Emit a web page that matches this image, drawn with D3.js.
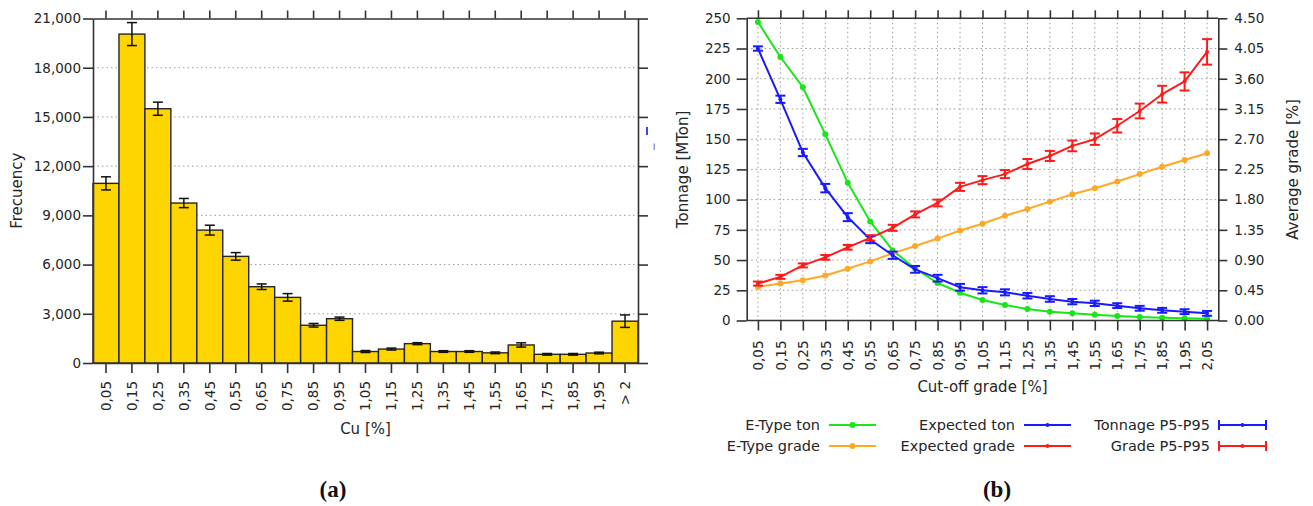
<!DOCTYPE html>
<html>
<head>
<meta charset="utf-8">
<script src="https://cdn.jsdelivr.net/npm/d3@7"></script>
<style>
  html, body { margin: 0; padding: 0; background: #fff; }
  svg { display: block; font-family: "DejaVu Sans", Verdana, sans-serif; }
</style>
</head>
<body>
<svg id="fig" width="1313" height="506"></svg>
<script>
// ---- (a) Cu histogram ----
const binLabels = ["0,05","0,15","0,25","0,35","0,45","0,55","0,65","0,75","0,85","0,95",
                   "1,05","1,15","1,25","1,35","1,45","1,55","1,65","1,75","1,85","1,95","> 2"];
const frequency = [10950, 20050, 15500, 9750, 8100, 6500, 4650, 4000, 2300, 2700,
                   700, 850, 1180, 700, 700, 620, 1100, 530, 530, 610, 2550];
const frequencyErr = [400, 700, 400, 280, 300, 230, 170, 230, 110, 100,
                      60, 60, 60, 50, 50, 50, 130, 50, 50, 50, 380];
const freqTicks = [0, 3000, 6000, 9000, 12000, 15000, 18000, 21000];

// ---- (b) grade-tonnage curves ----
const cutoffLabels = ["0,05","0,15","0,25","0,35","0,45","0,55","0,65","0,75","0,85","0,95","1,05",
                      "1,15","1,25","1,35","1,45","1,55","1,65","1,75","1,85","1,95","2,05"];
const eTypeTon = [247, 218, 193, 154, 114, 82, 58, 43, 31, 23, 17,
                  12.8, 9.5, 7.3, 5.9, 4.8, 3.7, 2.9, 2.3, 1.8, 1.5];
const expectedTon = [225, 183, 139, 109.5, 85.5, 67, 54, 42.3, 35, 27.5, 25,
                     23.3, 20.5, 17.8, 15.6, 14.2, 12.3, 10.1, 8.4, 7.3, 5.9];
const tonnageP5P95 = [1.8, 3, 3, 3.5, 3.3, 3, 3, 2.8, 2.8, 2.8, 2.6,
                      2.5, 2.3, 2.3, 2.2, 2.2, 2, 2, 2, 2, 2];
const eTypeGrade = [0.50, 0.55, 0.60, 0.67, 0.77, 0.88, 1.00, 1.11, 1.22, 1.34, 1.44,
                    1.56, 1.66, 1.77, 1.88, 1.97, 2.07, 2.18, 2.29, 2.39, 2.49];
const expectedGrade = [0.55, 0.65, 0.82, 0.94, 1.09, 1.23, 1.38, 1.58, 1.75, 1.99, 2.09,
                       2.18, 2.33, 2.45, 2.60, 2.70, 2.90, 3.12, 3.37, 3.56, 4.00];
const gradeP5P95 = [0.03, 0.03, 0.03, 0.035, 0.035, 0.04, 0.045, 0.045, 0.05, 0.06, 0.06,
                    0.06, 0.075, 0.075, 0.08, 0.085, 0.10, 0.11, 0.125, 0.135, 0.19];
const tonTicks = [0, 25, 50, 75, 100, 125, 150, 175, 200, 225, 250];
const gradeTicks = [0, 0.45, 0.90, 1.35, 1.80, 2.25, 2.70, 3.15, 3.60, 4.05, 4.50];

const legendRows = [
  [{label: "E-Type ton", color: "#19e619", kind: "dot"},
   {label: "Expected ton", color: "#1a1aff", kind: "small"},
   {label: "Tonnage P5-P95", color: "#1a1aff", kind: "err"}],
  [{label: "E-Type grade", color: "#ffa826", kind: "dot"},
   {label: "Expected grade", color: "#ff1a1a", kind: "small"},
   {label: "Grade P5-P95", color: "#ff1a1a", kind: "err"}]
];

const svg = d3.select("#fig");
svg.append("rect").attr("width", 1313).attr("height", 506).attr("fill", "#fff");

const AXIS = "#333";
const TEXT = "#262626";
const GRID = "#9a9a9a";
const tickFont = "13.5px";

function styleAxis(g, showText) {
  g.select(".domain").attr("stroke", AXIS).attr("stroke-width", 1.6);
  g.selectAll(".tick line").attr("stroke", AXIS).attr("stroke-width", 1.6);
  g.selectAll(".tick text").attr("fill", TEXT).style("font-size", tickFont)
    .style("font-family", "'DejaVu Sans', Verdana, sans-serif");
  if (!showText) g.selectAll(".tick text").remove();
}

// ================= panel (a) =================
{
  const L = 93, R = 638, T = 18.5, B = 363;
  const x = d3.scaleBand().domain(binLabels).range([L, R]).padding(0);
  const y = d3.scaleLinear().domain([0, 21000]).range([B, T]);
  const g = svg.append("g");

  // dotted horizontal grid
  g.append("g").selectAll("line")
    .data(freqTicks.filter(v => v > 0 && v < 21000))
    .join("line")
    .attr("x1", L).attr("x2", R)
    .attr("y1", d => y(d)).attr("y2", d => y(d))
    .attr("stroke", GRID).attr("stroke-width", 1).attr("stroke-dasharray", "1.5,3");

  // bars
  g.append("g").selectAll("rect")
    .data(frequency)
    .join("rect")
    .attr("x", (d, i) => x(binLabels[i]))
    .attr("y", d => y(d))
    .attr("width", x.bandwidth())
    .attr("height", d => B - y(d))
    .attr("fill", "#ffd500")
    .attr("stroke", "#262626").attr("stroke-width", 1.4);

  // error bars
  const eb = g.append("g").attr("stroke", "#111").attr("stroke-width", 1.5);
  frequency.forEach((v, i) => {
    const cx = x(binLabels[i]) + x.bandwidth() / 2;
    const lo = y(v - frequencyErr[i]), hi = y(v + frequencyErr[i]);
    eb.append("line").attr("x1", cx).attr("x2", cx).attr("y1", lo).attr("y2", hi);
    eb.append("line").attr("x1", cx - 5).attr("x2", cx + 5).attr("y1", lo).attr("y2", lo);
    eb.append("line").attr("x1", cx - 5).attr("x2", cx + 5).attr("y1", hi).attr("y2", hi);
  });

  // axes
  const ax = g.append("g").attr("transform", `translate(0,${B})`)
    .call(d3.axisBottom(x).tickSize(10).tickSizeOuter(0));
  styleAxis(ax, true);
  ax.selectAll(".tick text")
    .attr("y", 0).attr("x", -18).attr("dy", "0.35em")
    .attr("transform", "rotate(-90)").style("text-anchor", "end");

  const axT = g.append("g").attr("transform", `translate(0,${T})`)
    .call(d3.axisTop(x).tickSize(8).tickSizeOuter(0));
  styleAxis(axT, false);

  const ay = g.append("g").attr("transform", `translate(${L},0)`)
    .call(d3.axisLeft(y).tickValues(freqTicks).tickFormat(d3.format(",")).tickSize(10).tickPadding(2).tickSizeOuter(0));
  styleAxis(ay, true);

  const ayR = g.append("g").attr("transform", `translate(${R},0)`)
    .call(d3.axisRight(y).tickValues(freqTicks).tickSize(10).tickSizeOuter(0));
  styleAxis(ayR, false);

  g.append("text").attr("transform", `translate(17,${(T + B) / 2}) rotate(-90)`)
    .attr("text-anchor", "middle").attr("dy", "0.35em")
    .attr("fill", TEXT).style("font-size", "15px").text("Frecuency");
  g.append("text").attr("x", (L + R) / 2).attr("y", 434)
    .attr("text-anchor", "middle").attr("fill", TEXT).style("font-size", "15px").text("Cu [%]");

  // clipped legend fragment at the right edge
  g.append("rect").attr("x", 646).attr("y", 127).attr("width", 2).attr("height", 8).attr("fill", "#3b4be0");
  g.append("rect").attr("x", 653.5).attr("y", 143.5).attr("width", 1.5).attr("height", 6.5).attr("fill", "#8c98ee");

  g.append("text").attr("x", 333).attr("y", 497).attr("text-anchor", "middle")
    .style("font-family", "'Liberation Serif', 'Times New Roman', serif")
    .style("font-size", "23px").style("font-weight", "bold").attr("fill", "#111")
    .text("(a)");
}

// ================= panel (b) =================
{
  const L = 746.7, R = 1218.3, T = 18.3, B = 320.5;
  const x = d3.scalePoint().domain(cutoffLabels).range([L, R]).padding(0.5);
  const yT = d3.scaleLinear().domain([0, 250]).range([B, T]);
  const yG = d3.scaleLinear().domain([0, 4.5]).range([B, T]);
  const g = svg.append("g");

  // dotted grid
  const grid = g.append("g").attr("stroke", GRID).attr("stroke-width", 1).attr("stroke-dasharray", "1.5,3");
  grid.selectAll("line.h").data(tonTicks.filter(v => v > 0 && v < 250)).join("line")
    .attr("class", "h").attr("x1", L).attr("x2", R)
    .attr("y1", d => yT(d)).attr("y2", d => yT(d));
  grid.selectAll("line.v").data(cutoffLabels).join("line")
    .attr("class", "v").attr("y1", T).attr("y2", B)
    .attr("x1", d => x(d)).attr("x2", d => x(d));

  function series(values, scale, color, r) {
    const pts = values.map((v, i) => [x(cutoffLabels[i]), scale(v)]);
    g.append("path").attr("d", d3.line()(pts))
      .attr("fill", "none").attr("stroke", color).attr("stroke-width", 2)
      .attr("stroke-linejoin", "round");
    g.append("g").selectAll("circle").data(pts).join("circle")
      .attr("cx", d => d[0]).attr("cy", d => d[1]).attr("r", r).attr("fill", color);
  }
  function errorBars(values, errs, scale, color) {
    const e = g.append("g").attr("stroke", color).attr("stroke-width", 2);
    values.forEach((v, i) => {
      const cx = x(cutoffLabels[i]);
      const lo = scale(v - errs[i]), hi = scale(v + errs[i]);
      e.append("line").attr("x1", cx).attr("x2", cx).attr("y1", lo).attr("y2", hi);
      e.append("line").attr("x1", cx - 5).attr("x2", cx + 5).attr("y1", lo).attr("y2", lo);
      e.append("line").attr("x1", cx - 5).attr("x2", cx + 5).attr("y1", hi).attr("y2", hi);
    });
  }

  series(eTypeTon, yT, legendRows[0][0].color, 3);
  series(eTypeGrade, yG, legendRows[1][0].color, 3);
  series(expectedTon, yT, legendRows[0][1].color, 2);
  series(expectedGrade, yG, legendRows[1][1].color, 2);
  errorBars(expectedTon, tonnageP5P95, yT, legendRows[0][2].color);
  errorBars(expectedGrade, gradeP5P95, yG, legendRows[1][2].color);

  // axes
  const ax = g.append("g").attr("transform", `translate(0,${B})`)
    .call(d3.axisBottom(x).tickSize(10).tickSizeOuter(0));
  styleAxis(ax, true);
  ax.selectAll(".tick text")
    .attr("y", 0).attr("x", -20).attr("dy", "0.35em")
    .attr("transform", "rotate(-90)").style("text-anchor", "end");
  ax.select(".domain").attr("d", `M${L},0H${R}`);

  const axT = g.append("g").attr("transform", `translate(0,${T})`)
    .call(d3.axisTop(x).tickSize(8).tickSizeOuter(0));
  styleAxis(axT, false);
  axT.select(".domain").attr("d", `M${L},0H${R}`);

  const ay = g.append("g").attr("transform", `translate(${L},0)`)
    .call(d3.axisLeft(yT).tickValues(tonTicks).tickSize(10).tickPadding(6).tickSizeOuter(0));
  styleAxis(ay, true);

  const ayR = g.append("g").attr("transform", `translate(${R},0)`)
    .call(d3.axisRight(yG).tickValues(gradeTicks).tickFormat(d3.format(".2f")).tickSize(9).tickPadding(7).tickSizeOuter(0));
  styleAxis(ayR, true);

  g.append("text").attr("transform", `translate(683,${(T + B) / 2}) rotate(-90)`)
    .attr("text-anchor", "middle").attr("dy", "0.35em")
    .attr("fill", TEXT).style("font-size", "15px").text("Tonnage [MTon]");
  g.append("text").attr("transform", `translate(1293,${(T + B) / 2}) rotate(-90)`)
    .attr("text-anchor", "middle").attr("dy", "0.35em")
    .attr("fill", TEXT).style("font-size", "15px").text("Average grade [%]");
  g.append("text").attr("x", (L + R) / 2).attr("y", 392)
    .attr("text-anchor", "middle").attr("fill", TEXT).style("font-size", "15px").text("Cut-off grade [%]");

  // legend
  const colText = [820, 1015, 1210];
  const rowY = [425, 446];
  const lg = g.append("g");
  legendRows.forEach((row, ri) => {
    row.forEach((item, ci) => {
      const tx = colText[ci], cy = rowY[ri];
      lg.append("text").attr("x", tx).attr("y", cy).attr("dy", "0.35em")
        .attr("text-anchor", "end").attr("fill", TEXT).style("font-size", "14.5px")
        .text(item.label);
      const x0 = tx + 9, x1 = tx + 56;
      lg.append("line").attr("x1", x0).attr("x2", x1).attr("y1", cy).attr("y2", cy)
        .attr("stroke", item.color).attr("stroke-width", 2);
      lg.append("circle").attr("cx", (x0 + x1) / 2).attr("cy", cy)
        .attr("r", item.kind === "dot" ? 3 : 2).attr("fill", item.color);
      if (item.kind === "err") {
        [x0, x1].forEach(xx => lg.append("line").attr("x1", xx).attr("x2", xx)
          .attr("y1", cy - 5).attr("y2", cy + 5).attr("stroke", item.color).attr("stroke-width", 2));
      }
    });
  });

  g.append("text").attr("x", 997).attr("y", 497).attr("text-anchor", "middle")
    .style("font-family", "'Liberation Serif', 'Times New Roman', serif")
    .style("font-size", "23px").style("font-weight", "bold").attr("fill", "#111")
    .text("(b)");
}
</script>
</body>
</html>
